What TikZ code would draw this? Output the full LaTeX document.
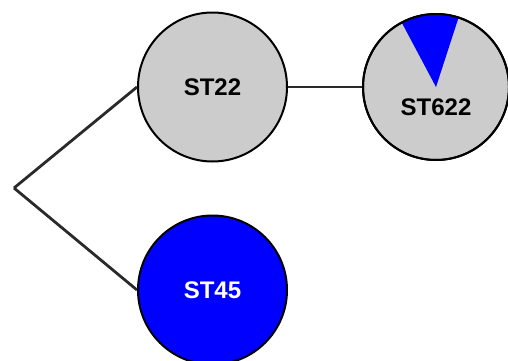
\documentclass[tikz,border=0pt]{standalone}
\usepackage{fontspec}
\setmainfont{Liberation Sans}
\definecolor{ngray}{HTML}{CCCCCC}
\definecolor{nblue}{HTML}{0000FF}
\definecolor{lgray}{HTML}{2A2A2A}
\tikzset{
  stnode/.style={circle, draw=black, line width=2pt, inner sep=0pt, minimum size=149pt},
  conn/.style={draw=lgray, line width=2.8pt},
  lbl/.style={font=\fontsize{24pt}{28pt}\selectfont\bfseries, inner sep=0pt}
}
\begin{document}
\begin{tikzpicture}[x=1pt,y=1pt]
\useasboundingbox (0,0) rectangle (508,360);
\coordinate (root) at (14,172);
\node[stnode, fill=ngray] (st22) at (212.5,273) {};
\node[stnode, fill=nblue] (st45) at (212.5,70) {};
\node[stnode, fill=ngray, minimum size=146pt] (st622) at (436,273) {};
\fill[nblue] (st622.center) -- ++(72:73) arc (72:118:73) -- cycle;
\draw[black, line width=2pt] (st622.center) circle (73);
\draw[conn] (root) -- (st22.west);
\draw[conn] (root) -- (st45.west);
\draw[conn] (st22.east) -- (st622.west);
\node[lbl] (t22) at (st22.center) {ST22};
\node[lbl, text=white] (t45) at (st45.center) {ST45};
\node[lbl] (t622) at ([yshift=-20pt]st622.center) {ST622};
\end{tikzpicture}
\end{document}
